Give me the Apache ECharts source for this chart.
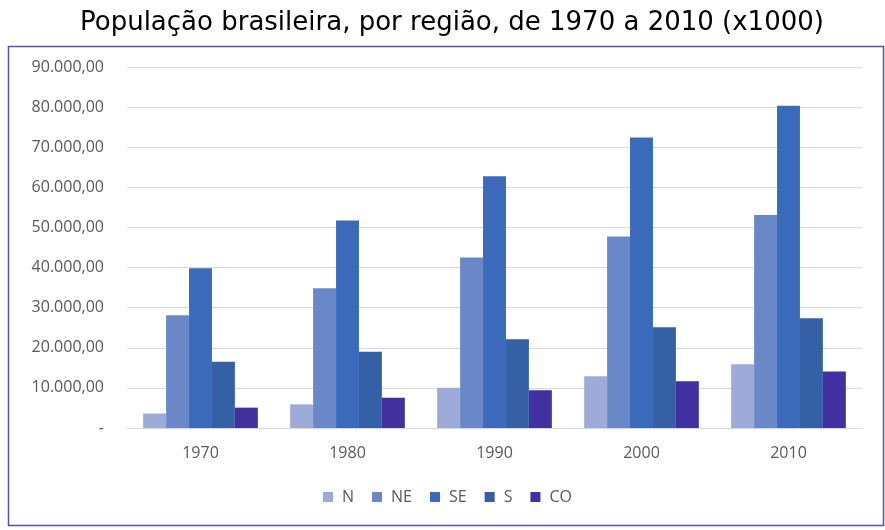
<!DOCTYPE html>
<html>
<head>
<meta charset="utf-8">
<script src="https://cdn.jsdelivr.net/npm/echarts@6/dist/echarts.min.js"></script>
<style>
  body { margin: 0; background: #fff; }
  #main { width: 885px; height: 530px; }
</style>
</head>
<body>
<div id="main"></div>
<script>
let anos = ['1970', '1980', '1990', '2000', '2010'];
let regioes = ['N', 'NE', 'SE', 'S', 'CO'];
let norte = [3603, 5880, 10030, 12900, 15864];
let nordeste = [28112, 34815, 42497, 47741, 53081];
let sudeste = [39853, 51737, 62740, 72412, 80364];
let sul = [16497, 19031, 22129, 25107, 27386];
let centroOeste = [5073, 7545, 9412, 11636, 14058];
let cores = ['#9eaad8', '#6a88c8', '#3c6abb', '#3660a5', '#4230a0'];

let chart = echarts.init(document.getElementById('main'));

// formata 10000 -> "10.000,00", zero vira "-"
function fmt(v) {
    if (v === 0) return '-';
    let s = String(Math.round(v));
    s = s.replace(/\B(?=(\d{3})+(?!\d))/g, '.');
    return s + ',00';
}

let dados = [norte, nordeste, sudeste, sul, centroOeste];
let series = regioes.map(function (nome, i) {
    return {
        name: nome,
        type: 'bar',
        data: dados[i],
        barGap: '0%',
        barCategoryGap: '22%',
        itemStyle: { color: cores[i] }
    };
});

let option = {
    animation: false,
    title: {
        text: 'População brasileira, por região, de 1970 a 2010 (x1000)',
        left: 75,
        top: 5,
        textStyle: {
            fontFamily: 'DejaVu Sans',
            fontWeight: 'normal',
            fontSize: 26,
            color: '#000'
        }
    },
    graphic: [{
        type: 'rect',
        shape: { x: 8.5, y: 46.5, width: 875, height: 479 },
        style: { fill: 'none', stroke: '#5b4db5', lineWidth: 1.5 },
        silent: true
    }],
    legend: {
        data: regioes,
        top: 484,
        left: 318,
        itemWidth: 10,
        itemHeight: 10,
        itemGap: 18,
        icon: 'rect',
        textStyle: { color: '#595959', fontSize: 16, fontFamily: 'Open Sans', padding: [0, 0, 0, 4] }
    },
    grid: { left: 127, right: 23, top: 67, bottom: 102 },
    xAxis: {
        type: 'category',
        data: anos,
        axisLine: { lineStyle: { color: '#d9d9d9' } },
        axisTick: { show: false },
        axisLabel: { color: '#595959', fontSize: 16, margin: 17, fontFamily: 'Open Sans' }
    },
    yAxis: {
        type: 'value',
        min: 0,
        max: 90000,
        interval: 10000,
        axisLine: { show: false },
        axisTick: { show: false },
        splitLine: { lineStyle: { color: '#d9d9d9' } },
        axisLabel: {
            color: '#595959',
            fontSize: 16,
            margin: 23,
            fontFamily: 'Open Sans',
            formatter: fmt
        }
    },
    series: series
};

chart.setOption(option);
</script>
</body>
</html>
